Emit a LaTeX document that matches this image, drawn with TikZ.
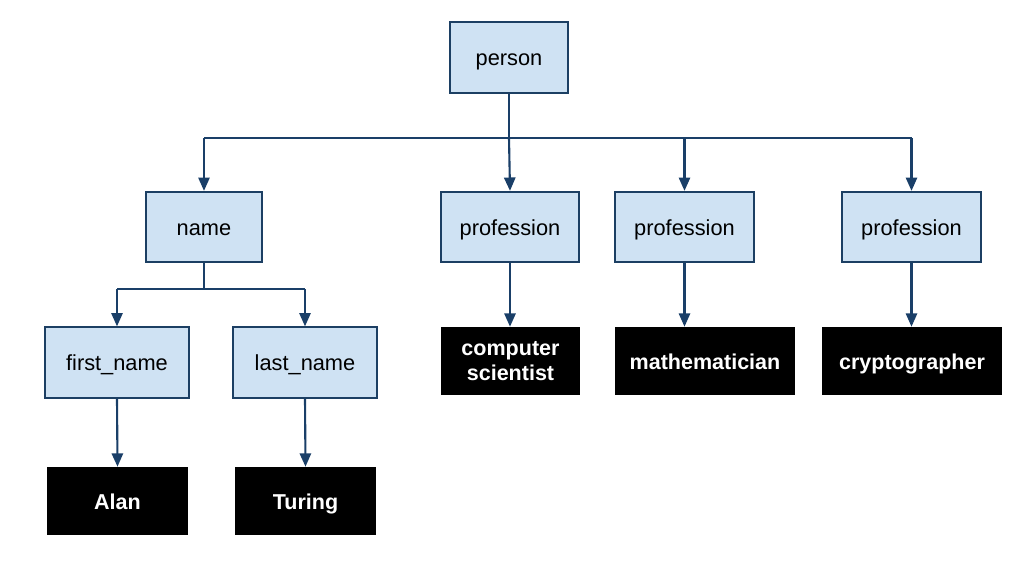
\documentclass[tikz,border=0pt]{standalone}
\usepackage{fontspec}
\setmainfont{Liberation Sans}
\usepackage{tikz}
\usetikzlibrary{arrows.meta, positioning, calc}

\definecolor{boxfill}{HTML}{CFE2F3}
\definecolor{boxline}{HTML}{1C3F63}
\definecolor{wire}{HTML}{1A3F68}

\tikzset{
  field/.style={draw=boxline, fill=boxfill, line width=1.3pt, inner sep=0pt,
    minimum height=1.76cm, text height=13.8pt, text depth=2pt,
    font=\fontsize{15.5}{18}\selectfont},
  value/.style={fill=black, text=white, inner sep=0pt, align=center,
    minimum height=1.7cm, font=\fontsize{15.3}{17.5}\selectfont\bfseries},
  oneline/.style={text height=13.4pt, text depth=2pt},
  wire/.style={draw=wire, line width=1.5pt},
  arr/.style={wire, -{Triangle[length=9.5pt, width=8pt]}},
}

\begin{document}
\begin{tikzpicture}[x=0.025cm, y=-0.025cm]
  \useasboundingbox (0,0) rectangle (1030,565);
  % --- top level ---
  \node[field, minimum width=2.95cm] (person) at (509,57.5) {person};
  % --- second level ---
  \node[field, minimum width=2.9cm]  (name)  at (204,227)   {name};
  \node[field, minimum width=3.45cm] (prof1) at (510,227)   {profession};
  \node[field, minimum width=3.47cm] (prof2) at (684.5,227) {profession};
  \node[field, minimum width=3.47cm] (prof3) at (911.5,227) {profession};
  % --- third level ---
  \node[field, minimum width=3.6cm] (first) at (117,362.5) {first\_name};
  \node[field, minimum width=3.6cm] (last)  at (305,362.5) {last\_name};
  \node[value, minimum width=3.48cm] (comp) at (510.5,361)
    {computer\\scientist};
  \node[value, oneline, minimum width=4.5cm] (math)  at (705,361) {mathematician};
  \node[value, oneline, minimum width=4.5cm] (crypt) at (912,361) {cryptographer};
  % --- leaves ---
  \node[value, oneline, minimum width=3.52cm] (alan)   at (117.5,501) {Alan};
  \node[value, oneline, minimum width=3.52cm] (turing) at (305.5,501) {Turing};

  % bus lines
  \coordinate (bus) at (509,138);
  \coordinate (sub) at (204,289);
  \draw[wire] (person.south) -- (bus);
  \draw[wire] (bus -| name) -- (bus -| prof3);
  \draw[wire] (name.south) -- (sub);
  \draw[wire] (sub -| first) -- (sub -| last);

  % arrows
  \draw[arr] (bus -| name) -- (name.north);
  \draw[arr] (bus) -- (prof1.north);
  \draw[arr] (bus -| prof2) -- (prof2.north);
  \draw[arr] (bus -| prof3) -- (prof3.north);
  \draw[arr] (sub -| first) -- (first.north);
  \draw[arr] (sub -| last) -- (last.north);
  \draw[arr] (first.south) -- (alan.north);
  \draw[arr] (last.south) -- (turing.north);
  \draw[arr] (prof1.south) -- (comp.north -| prof1.south);
  \draw[arr] (prof2.south) -- (math.north -| prof2.south);
  \draw[arr] (prof3.south) -- (crypt.north -| prof3.south);
\end{tikzpicture}
\end{document}
